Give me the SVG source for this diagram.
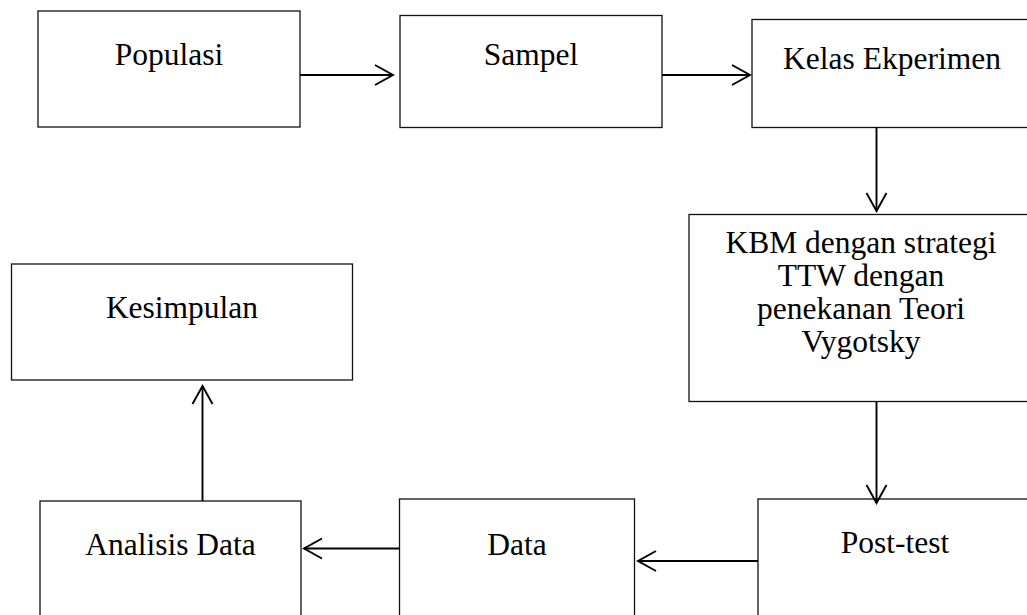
<svg xmlns="http://www.w3.org/2000/svg" width="1027" height="615" viewBox="0 0 1027 615">
<style>
.box{fill:#fff;stroke:#111;stroke-width:1.3}
.lbl{font-family:"Liberation Serif","Times New Roman",serif;font-size:31.5px;fill:#000;text-anchor:middle}
.con{fill:none;stroke:#000;stroke-width:1.9}
</style>
<defs>
<marker id="ah" viewBox="-21 -12 23 24" refX="0" refY="0" markerWidth="23" markerHeight="24" markerUnits="userSpaceOnUse" orient="auto">
<path d="M-18,-10 L0,0 L-18,10" fill="none" stroke="#000" stroke-width="1.9"/>
</marker>
</defs>
<rect width="1027" height="615" fill="#fff"/>
<g id="populasi"><rect class="box" x="38" y="11" width="262" height="116"/><text class="lbl" x="169" y="65">Populasi</text></g>
<g id="sampel"><rect class="box" x="400" y="15.5" width="262" height="112"/><text class="lbl" x="531" y="65">Sampel</text></g>
<g id="kelas"><rect class="box" x="752" y="19.5" width="285" height="108"/><text class="lbl" x="892" y="68.5">Kelas Ekperimen</text></g>
<g id="kbm"><rect class="box" x="689" y="214.5" width="350" height="187"/>
<text class="lbl" x="861" y="253">KBM dengan strategi</text>
<text class="lbl" x="861" y="286">TTW dengan</text>
<text class="lbl" x="861" y="319">penekanan Teori</text>
<text class="lbl" x="861" y="352">Vygotsky</text></g>
<g id="kesimpulan"><rect class="box" x="11.5" y="264" width="341" height="116"/><text class="lbl" x="182" y="318">Kesimpulan</text></g>
<g id="posttest"><rect class="box" x="758" y="499" width="285" height="130"/><text class="lbl" x="895" y="553">Post-test</text></g>
<g id="data"><rect class="box" x="399.5" y="499" width="235" height="130"/><text class="lbl" x="517" y="555">Data</text></g>
<g id="analisis"><rect class="box" x="40" y="501" width="261" height="130"/><text class="lbl" x="170.5" y="555">Analisis Data</text></g>
<g id="connectors">
<line class="con" x1="300" y1="75" x2="393" y2="75" marker-end="url(#ah)"/>
<line class="con" x1="662" y1="75" x2="750" y2="75" marker-end="url(#ah)"/>
<line class="con" x1="876.5" y1="127" x2="876.5" y2="211" marker-end="url(#ah)"/>
<line class="con" x1="876.5" y1="402" x2="876.5" y2="503" marker-end="url(#ah)"/>
<line class="con" x1="758" y1="561" x2="638" y2="561" marker-end="url(#ah)"/>
<line class="con" x1="399.5" y1="548.5" x2="304" y2="548.5" marker-end="url(#ah)"/>
<line class="con" x1="202.5" y1="501" x2="202.5" y2="386" marker-end="url(#ah)"/>
</g>
</svg>
